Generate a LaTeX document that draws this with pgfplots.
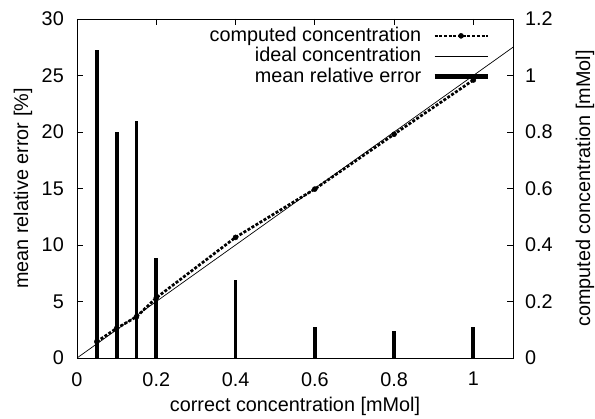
\documentclass[border=0pt]{standalone}
\usepackage{fontspec}
\setmainfont{Liberation Sans}
\usepackage{pgfplots}
\pgfplotsset{compat=1.18}

\pgfplotsset{
  gp/.style={
    scale only axis, width=436bp, height=339bp,
    at={(0,0)}, anchor=south west,
    xmin=0, xmax=1.1,
    tick align=inside, major tick length=6bp,
    axis line style={line width=0.8bp},
    every tick/.style={black, line width=0.8bp},
    /pgf/number format/assume math mode=true,
    tick label style={inner sep=0pt},
  },
  computed/.style={black, line width=2.7bp, dash pattern=on 3bp off 1.7bp,
    mark=*, mark size=2.5bp, mark options={solid, line width=0.5bp}},
}

\begin{document}
\fontsize{19.9}{24}\selectfont
\begin{tikzpicture}[font=\fontsize{19.9}{24}\selectfont]
\path[use as bounding box] (-77bp,-61bp) rectangle (518bp,358bp);

% right axis: concentrations
\begin{axis}[gp,
  hide x axis,
  axis y line*=right,
  ymin=0, ymax=1.2,
  ytick={0,0.2,0.4,0.6,0.8,1,1.2},
  yticklabels={0,0.2,0.4,0.6,0.8,1,1.2},
  yticklabel style={anchor=west, xshift=12bp},
  ylabel={computed concentration [mMol]},
  ylabel style={at={(axis description cs:1.165,0.5)}, anchor=center},
]
\addplot[computed]
  coordinates {(0.05,0.058) (0.1,0.105) (0.15,0.146) (0.2,0.213) (0.4,0.427) (0.6,0.598) (0.8,0.792) (1.0,0.984)};
\addplot[black, line width=0.7bp] coordinates {(0,0) (1.1,1.1)};
\end{axis}

% left axis: mean relative error
\begin{axis}[gp,
  ymin=0, ymax=30,
  ytick={0,5,10,15,20,25,30},
  xtick={0,0.2,0.4,0.6,0.8,1},
  xticklabels={0,0.2,0.4,0.6,0.8,1},
  xtick pos=both, ytick pos=left,
  xticklabel style={anchor=north, yshift=-14bp},
  yticklabel style={anchor=east, xshift=-13bp},
  xlabel={correct concentration [mMol]},
  xlabel style={at={(axis description cs:0.5,-0.1416)}, anchor=center},
  ylabel={mean relative error [\%]},
  ylabel style={at={(axis description cs:-0.124,0.5)}, anchor=center},
  legend plot pos=right,
  legend cell align=right,
  legend style={draw=none, fill=none, at={(axis description cs:1,1)}, anchor=north east,
    xshift=-23bp, yshift=-7bp, inner sep=0pt, row sep=1bp, column sep=10bp,
    nodes={inner sep=1bp}},
  legend image code/.code={
    \draw[mark repeat=2, mark phase=2, #1] plot coordinates {(0bp,0bp) (26.5bp,0bp) (53bp,0bp)};
  },
]
\addlegendimage{computed}
\addlegendentry{computed concentration}
\addlegendimage{black, line width=0.7bp}
\addlegendentry{ideal concentration}
\addlegendimage{black, line width=4.5bp}
\addlegendentry{mean relative error}
\addplot[black, ycomb, line width=3.8bp, forget plot]
  coordinates {(0.05,27.3) (0.1,20.0) (0.15,21.0) (0.2,8.85) (0.4,6.9) (0.6,2.77) (0.8,2.42) (1.0,2.72)};
\end{axis}
\end{tikzpicture}
\end{document}
